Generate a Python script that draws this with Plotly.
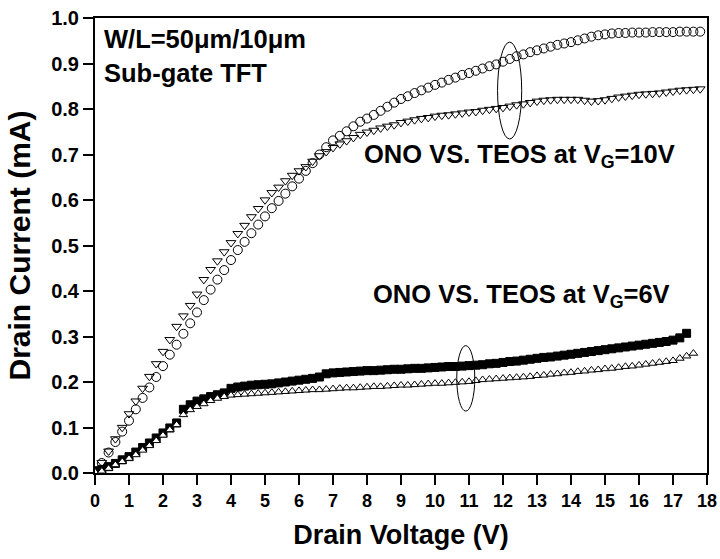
import plotly.graph_objects as go

# Drain voltage sweep (V)
VD = [0.0, 0.2, 0.4, 0.6, 0.8, 1.0, 1.2, 1.4, 1.6, 1.8,
      2.0, 2.2, 2.4, 2.6, 2.8, 3.0, 3.2, 3.4, 3.6, 3.8,
      4.0, 4.2, 4.4, 4.6, 4.8, 5.0, 5.2, 5.4, 5.6, 5.8,
      6.0, 6.2, 6.4, 6.6, 6.8, 7.0, 7.2, 7.4, 7.6, 7.8,
      8.0, 8.2, 8.4, 8.6, 8.8, 9.0, 9.2, 9.4, 9.6, 9.8,
      10.0, 10.2, 10.4, 10.6, 10.8, 11.0, 11.2, 11.4, 11.6, 11.8,
      12.0, 12.2, 12.4, 12.6, 12.8, 13.0, 13.2, 13.4, 13.6, 13.8,
      14.0, 14.2, 14.4, 14.6, 14.8, 15.0, 15.2, 15.4, 15.6, 15.8,
      16.0, 16.2, 16.4, 16.6, 16.8, 17.0, 17.2, 17.4, 17.6, 17.8]

# VG = 10 V, open circles (mA)
ono_10 = [0.000, 0.022, 0.045, 0.068, 0.091, 0.115, 0.140, 0.165, 0.188, 0.211,
          0.235, 0.260, 0.282, 0.306, 0.329, 0.353, 0.380, 0.403, 0.425, 0.446,
          0.468, 0.490, 0.508, 0.527, 0.546, 0.564, 0.582, 0.598, 0.614, 0.630,
          0.647, 0.664, 0.681, 0.700, 0.716, 0.731, 0.741, 0.751, 0.762, 0.772,
          0.779, 0.787, 0.796, 0.805, 0.814, 0.822, 0.828, 0.835, 0.841, 0.847,
          0.853, 0.858, 0.864, 0.869, 0.875, 0.879, 0.884, 0.889, 0.894, 0.898,
          0.904, 0.910, 0.916, 0.920, 0.925, 0.929, 0.933, 0.937, 0.941, 0.944,
          0.947, 0.951, 0.955, 0.959, 0.962, 0.964, 0.966, 0.967, 0.967, 0.968,
          0.968, 0.968, 0.969, 0.969, 0.969, 0.969, 0.970, 0.970, 0.970, 0.970]

# VG = 10 V, open down-triangles (mA)
teos_10 = [0.000, 0.023, 0.048, 0.075, 0.100, 0.130, 0.158, 0.186, 0.212, 0.240,
           0.267, 0.293, 0.322, 0.345, 0.368, 0.393, 0.425, 0.447, 0.466, 0.486,
           0.506, 0.526, 0.544, 0.563, 0.581, 0.600, 0.616, 0.628, 0.642, 0.654,
           0.664, 0.673, 0.685, 0.697, 0.706, 0.715, 0.723, 0.730, 0.737, 0.744,
           0.749, 0.753, 0.758, 0.762, 0.765, 0.770, 0.773, 0.776, 0.779, 0.781,
           0.784, 0.786, 0.787, 0.789, 0.791, 0.793, 0.794, 0.797, 0.799, 0.801,
           0.803, 0.806, 0.809, 0.811, 0.814, 0.817, 0.819, 0.820, 0.821, 0.821,
           0.821, 0.821, 0.819, 0.817, 0.818, 0.820, 0.823, 0.826, 0.828, 0.830,
           0.832, 0.833, 0.834, 0.835, 0.837, 0.839, 0.841, 0.842, 0.843, 0.844]

# VG = 6 V, filled squares (mA), 0 .. 17.4 V
ono_6 = [0.005, 0.008, 0.014, 0.021, 0.029, 0.036, 0.046, 0.056, 0.066, 0.077,
         0.088, 0.099, 0.110, 0.140, 0.150, 0.158, 0.163, 0.168, 0.172, 0.176,
         0.186, 0.189, 0.191, 0.193, 0.194, 0.195, 0.196, 0.198, 0.200, 0.202,
         0.204, 0.206, 0.208, 0.211, 0.218, 0.220, 0.221, 0.222, 0.223, 0.224,
         0.225, 0.225, 0.226, 0.227, 0.228, 0.228, 0.229, 0.230, 0.230, 0.231,
         0.232, 0.233, 0.234, 0.234, 0.235, 0.236, 0.237, 0.238, 0.240, 0.241,
         0.243, 0.245, 0.246, 0.248, 0.250, 0.252, 0.254, 0.255, 0.257, 0.259,
         0.261, 0.263, 0.265, 0.267, 0.269, 0.271, 0.273, 0.275, 0.277, 0.279,
         0.281, 0.283, 0.285, 0.287, 0.289, 0.292, 0.297, 0.307]

# VG = 6 V, open up-triangles (mA), 0 .. 17.6 V
teos_6 = [0.002, 0.004, 0.010, 0.018, 0.025, 0.032, 0.040, 0.050, 0.060, 0.071,
          0.083, 0.095, 0.106, 0.128, 0.139, 0.146, 0.152, 0.159, 0.164, 0.168,
          0.171, 0.172, 0.173, 0.174, 0.175, 0.176, 0.177, 0.178, 0.179, 0.180,
          0.181, 0.182, 0.183, 0.183, 0.184, 0.185, 0.186, 0.187, 0.187, 0.188,
          0.189, 0.190, 0.190, 0.191, 0.192, 0.193, 0.193, 0.194, 0.195, 0.196,
          0.197, 0.197, 0.198, 0.199, 0.200, 0.201, 0.203, 0.205, 0.206, 0.207,
          0.208, 0.209, 0.210, 0.211, 0.212, 0.214, 0.215, 0.217, 0.218, 0.220,
          0.221, 0.223, 0.224, 0.226, 0.227, 0.229, 0.230, 0.232, 0.234, 0.235,
          0.237, 0.239, 0.241, 0.243, 0.245, 0.247, 0.252, 0.257, 0.263]

# ellipse groupings (V, mA)
ellipse_10 = dict(x0=11.84, x1=12.55, y0=0.734, y1=0.947)
ellipse_6 = dict(x0=10.64, x1=11.17, y0=0.136, y1=0.280)

FONT = "Arial, 'Liberation Sans', Helvetica, sans-serif"

fig = go.Figure()
fig.add_trace(go.Scatter(x=VD[:len(ono_10)], y=ono_10, mode="markers", name="ONO VG=10V",
                         marker=dict(symbol="circle-open", size=9, color="black",
                                     line=dict(width=1, color="black"))))
fig.add_trace(go.Scatter(x=VD[:len(teos_10)], y=teos_10, mode="markers", name="TEOS VG=10V",
                         marker=dict(symbol="triangle-down-open", size=8.5, color="black",
                                     line=dict(width=1, color="black"))))
fig.add_trace(go.Scatter(x=VD[:len(ono_6)], y=ono_6, mode="markers", name="ONO VG=6V",
                         marker=dict(symbol="square", size=8, color="black",
                                     line=dict(width=1, color="black"))))
fig.add_trace(go.Scatter(x=VD[:len(teos_6)], y=teos_6, mode="markers", name="TEOS VG=6V",
                         marker=dict(symbol="triangle-up", size=7.5, color="white",
                                     line=dict(width=1, color="black"))))

for e in (ellipse_10, ellipse_6):
    fig.add_shape(type="circle", xref="x", yref="y", line=dict(color="black", width=1),
                  fillcolor="rgba(0,0,0,0)", **e)

def ann(text, x, y, size, xanchor="left"):
    fig.add_annotation(text="<b>" + text + "</b>", xref="paper", yref="paper", x=x, y=y,
                       xanchor=xanchor, yanchor="middle", showarrow=False,
                       font=dict(family=FONT, size=size, color="black"))

ann("W/L=50\u03bcm/10\u03bcm", 0.012, 0.954, 25.5)
ann("Sub-gate TFT", 0.012, 0.880, 25.5)
ann("ONO VS. TEOS at V<sub>G</sub>=10V", 0.436, 0.697, 25.5)
ann("ONO VS. TEOS at V<sub>G</sub>=6V", 0.451, 0.389, 25.5)

axis_common = dict(showgrid=False, zeroline=False, showline=True, linecolor="black",
                   linewidth=2, mirror=True, ticks="outside", ticklen=10, tickwidth=2,
                   tickcolor="black")

fig.update_xaxes(range=[0, 18], tickmode="array", tickvals=list(range(0, 19)),
                 tickfont=dict(family=FONT, size=18, color="black", weight="bold"),
                 title=dict(text="<b>Drain Voltage (V)</b>", standoff=16,
                            font=dict(family=FONT, size=27, color="black")),
                 **axis_common)
fig.update_yaxes(range=[0, 1.0], tickmode="array",
                 tickvals=[0.0, 0.1, 0.2, 0.3, 0.4, 0.5, 0.6, 0.7, 0.8, 0.9, 1.0],
                 ticktext=["0.0", "0.1", "0.2", "0.3", "0.4", "0.5", "0.6", "0.7", "0.8", "0.9", "1.0"],
                 tickfont=dict(family=FONT, size=20, color="black", weight="bold"),
                 title=dict(text="<b>Drain Current (mA)</b>", standoff=12,
                            font=dict(family=FONT, size=30, color="black")),
                 **axis_common)

fig.update_layout(width=720, height=559, showlegend=False,
                  margin=dict(l=95, r=13, t=18, b=86, autoexpand=False),
                  plot_bgcolor="white", paper_bgcolor="white")

fig.write_html("out.html")
